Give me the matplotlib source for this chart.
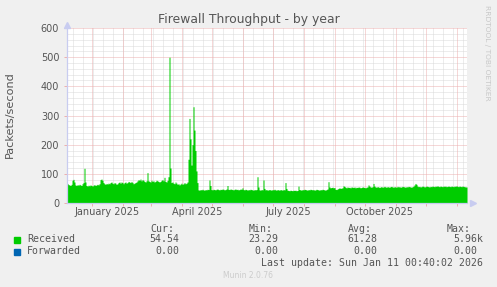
import datetime as dt

import matplotlib
matplotlib.use('Agg')
import matplotlib.dates as mdates
import matplotlib.pyplot as plt
import numpy as np
from matplotlib.patches import Rectangle

# одна точка в сутки, начиная с START
START = dt.datetime(2024, 12, 7, 0, 40)
SPAN_DAYS = 400

RECEIVED = [
    # декабрь - январь
    67, 63, 62, 60, 64, 78, 81, 72,
    62, 60, 63, 61, 64, 62, 60, 66, 70,
    119, 72,
    60, 58, 61, 59, 62, 60, 58, 61, 63, 60, 62, 64, 62, 66,
    # февраль - март
    80, 82, 78, 70,
    66, 64, 67, 65, 68, 66, 70, 72, 68, 66, 70, 68, 64, 66, 70, 72,
    68, 72, 70, 66, 70, 72, 68, 70,
    74, 72, 70, 74, 70,
    66, 68, 70, 72, 76,
    80, 78, 82, 76, 80, 78, 74,
    72, 76, 104,
    76, 74, 72, 78, 74, 76, 72, 74, 78, 76, 74, 72,
    74, 78, 80, 76, 88, 74, 72, 78, 90,
    # пики в марте / апреле
    500, 120,
    70, 72, 68, 66, 72, 68, 64, 66, 62, 65, 68, 64, 66, 70, 66, 68, 72,
    150, 290, 220, 130, 200, 330, 250, 180, 110,
    70,
    # апрель - июнь
    45, 44, 46, 45, 47, 45, 44, 46, 45, 47, 46,
    79, 60,
    46, 45, 47, 46, 45, 47, 48, 46, 45, 47, 46, 48, 47, 45, 46, 48,
    60,
    47, 46, 48, 47, 46, 45, 47, 48, 46, 47, 45, 46, 48, 47,
    52,
    46, 45, 47, 46, 44, 46, 45, 47, 46, 45, 44, 46, 45, 46,
    90,
    55, 45, 44, 46, 45,
    79,
    # июль - сентябрь
    50, 45, 46, 44, 45, 46, 45, 44, 46, 45, 47, 45, 44, 46, 45, 44,
    46, 45, 44, 46, 45,
    70,
    50, 44, 43, 42, 44, 43, 42, 44, 43, 44, 42, 43,
    58,
    46, 45, 44, 46, 45, 47, 46, 45, 44, 46, 45, 47, 46, 45, 46, 44,
    45, 47, 46, 45, 44, 46, 45, 47, 46, 45, 44, 46, 48,
    73, 55,
    52, 53, 54, 52, 53,
    47, 46, 48, 50, 52, 50, 51, 52,
    59, 57,
    # октябрь - январь
    54, 52, 55, 53, 54, 52, 55, 54, 53, 55, 52, 54, 53, 55, 54, 52,
    53, 55, 54, 53, 52, 54, 55,
    62, 58,
    55, 54, 56,
    67, 58,
    55, 54, 56, 55, 53, 55, 56, 54, 55, 57, 55, 54, 56, 55, 54, 56,
    57, 55, 54, 56, 55, 54, 57, 55, 56, 54, 55, 57, 56, 55, 54, 56,
    55, 57, 56, 55, 54, 56, 58,
    62, 67, 64,
    58, 56, 57, 55, 56, 58, 57, 55, 56, 58, 57, 56, 55,
    57, 56, 58, 57, 56, 58, 57, 59, 57, 56, 58, 57, 56, 58, 57, 58,
    56, 57, 58, 57, 56, 58, 57, 56, 58, 57, 59, 57, 56, 58, 57, 56,
    58, 57, 56, 55,
    55,
]
FORWARDED = [0.0] * len(RECEIVED)

Y_TICKS = [0, 100, 200, 300, 400, 500, 600]
MONTH_LABELS = ['January 2025', 'April 2025', 'July 2025', 'October 2025']
MONTH_LABEL_DATES = [dt.datetime(2025, 1, 1), dt.datetime(2025, 4, 1),
                     dt.datetime(2025, 7, 1), dt.datetime(2025, 10, 1)]

LEGEND_HEADER = ['Cur:', 'Min:', 'Avg:', 'Max:']
RECEIVED_STATS = ['54.54', '23.29', '61.28', '5.96k']
FORWARDED_STATS = ['0.00', '0.00', '0.00', '0.00']
LAST_UPDATE = 'Last update: Sun Jan 11 00:40:02 2026'

GREEN = '#00CC00'
BLUE = '#0066B3'
TEXT = '#555555'
AXIS = '#C8CCF0'
MINOR_GRID = '#DADADA'
MAJOR_GRID = '#EDB0B0'

W, H = 497, 287


def fx(x):
    return x / W


def fy(y):
    return 1 - y / H


fig = plt.figure(figsize=(W / 100, H / 100), dpi=100, facecolor='#F0F0F0')
ax = fig.add_axes([fx(67), fy(203), 400 / W, 175 / H])
ax.set_facecolor('white')

dates = [START + dt.timedelta(days=i) for i in range(len(RECEIVED) + 1)]
rec = np.append(RECEIVED, RECEIVED[-1])
fwd = np.append(FORWARDED, FORWARDED[-1])
ax.fill_between(dates, 0, rec, step='post', color=GREEN, linewidth=0, zorder=2)
ax.fill_between(dates, rec, rec + fwd, step='post', color=BLUE, linewidth=0, zorder=2)

x0 = mdates.date2num(START)
x1 = x0 + SPAN_DAYS
ax.set_xlim(x0, x1)
ax.set_ylim(0, 600)

# сетка: месяцы красным, каждые 10 суток серым
dot = (0, (1, 1))
for d in np.arange(np.ceil(x0 / 10) * 10, x1, 10):
    ax.axvline(d, color=MINOR_GRID, linestyle=dot, linewidth=0.72, zorder=0)
for y in range(20, 601, 20):
    if y % 100:
        ax.axhline(y, color=MINOR_GRID, linestyle=dot, linewidth=0.72, zorder=0)
ax.xaxis.set_major_locator(mdates.MonthLocator())
ax.xaxis.set_major_formatter(plt.NullFormatter())
for d in ax.get_xticks():
    ax.axvline(d, color=MAJOR_GRID, linestyle=dot, linewidth=0.72, zorder=1)
for y in Y_TICKS[1:]:
    ax.axhline(y, color=MAJOR_GRID, linestyle=dot, linewidth=0.72, zorder=1)

ax.set_yticks(Y_TICKS)
ax.tick_params(axis='y', length=2, width=0.72, color=MAJOR_GRID, pad=3.6,
               labelsize=7, labelcolor=TEXT)
ax.tick_params(axis='x', length=2, width=0.72, color=MAJOR_GRID)

for label, d in zip(MONTH_LABELS, MONTH_LABEL_DATES):
    ax.text(d + dt.timedelta(days=15), -9 / 175, label,
            transform=ax.get_xaxis_transform(), ha='center', va='center',
            fontsize=7, color=TEXT)

for side in ('top', 'right'):
    ax.spines[side].set_visible(False)
for side in ('left', 'bottom'):
    ax.spines[side].set_color(AXIS)
    ax.spines[side].set_linewidth(0.9)
    ax.spines[side].set_zorder(3)
ax.plot([0], [1.02], marker='^', markersize=4, color=AXIS,
        transform=ax.transAxes, clip_on=False)
ax.plot([1.015], [0], marker='>', markersize=4, color=AXIS,
        transform=ax.transAxes, clip_on=False)

fig.text(fx(248.5), fy(19), 'Firewall Throughput - by year',
         ha='center', va='center', fontsize=8.9, color=TEXT)
fig.text(fx(10), fy(115), 'Packets/second', rotation=90,
         ha='center', va='center', fontsize=8.1, color=TEXT)
fig.text(fx(487.5), fy(53), 'RRDTOOL / TOBI OETIKER', rotation=-90,
         ha='center', va='center', fontsize=5.4, color='#C8C8C8')

mono = dict(family='DejaVu Sans Mono', fontsize=7.1, color=TEXT, va='center')
for text, x in zip(LEGEND_HEADER, [150, 249, 348, 447]):
    fig.text(fx(x), fy(228.5), text, ha='left', **mono)

rows = [('Received', GREEN, RECEIVED_STATS, 239.5, [179, 278, 377, 483]),
        ('Forwarded', BLUE, FORWARDED_STATS, 251.5, [179, 278, 377, 477])]
for name, color, stats, y, ends in rows:
    fig.patches.append(Rectangle((fx(14), fy(y + 3)), 6 / W, 6 / H,
                                 transform=fig.transFigure, color=color))
    fig.text(fx(27), fy(y), name, ha='left', **mono)
    for text, x in zip(stats, ends):
        fig.text(fx(x), fy(y), text, ha='right', **mono)

fig.text(fx(483), fy(263.5), LAST_UPDATE, ha='right', **mono)
fig.text(fx(248), fy(275.5), 'Munin 2.0.76', ha='center', va='center',
         fontsize=5.5, color='#CCCCCC')

fig.savefig('out.png', dpi=100, facecolor=fig.get_facecolor())
